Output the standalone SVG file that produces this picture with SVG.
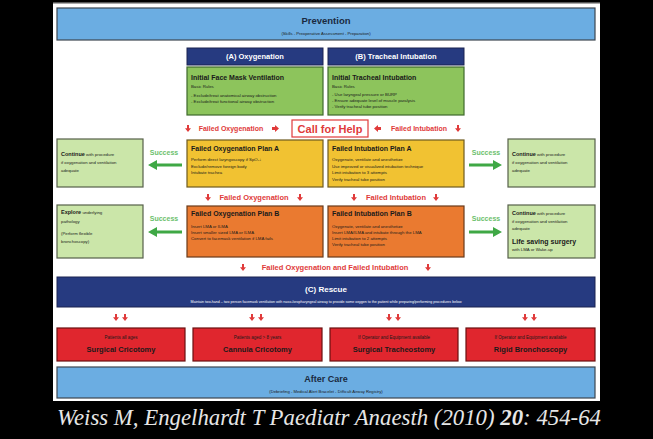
<svg xmlns="http://www.w3.org/2000/svg" width="653" height="439" viewBox="0 0 653 439">
<defs>
<style>
text{font-family:"Liberation Sans",Arial,sans-serif;fill:#1a1a1a}
.t{font-weight:bold;font-size:7px}
.b{font-size:4.3px}
.w{fill:#fff}
.red{fill:#e03a3a;font-weight:bold;font-size:7px}
.succ{fill:#6cbf6c;font-weight:bold;font-size:7px}
.bar{fill:#6badE2;stroke:#3c4650;stroke-width:1.2}
.navy{fill:#263a80;stroke:#1a2350;stroke-width:1}
.green{fill:#8dc45c;stroke:#3f6a2c;stroke-width:1.2}
.lg{fill:#cbe6a9;stroke:#56604a;stroke-width:1.2}
.yel{fill:#f1c232;stroke:#6e5a1e;stroke-width:1.2}
.org{fill:#ea7a30;stroke:#6a3a1a;stroke-width:1.2}
.rb{fill:#e0262e;stroke:#6a1010;stroke-width:1.2}
.ra{fill:#e03a3a}
.ga{fill:#3fa845}
</style>
<symbol id="dn" viewBox="0 0 6 7" overflow="visible"><polygon points="2,0 4,0 4,3.3 6,3.3 3,7 0,3.3 2,3.3"/></symbol>
</defs>
<rect x="0" y="0" width="653" height="439" fill="#000"/>
<rect x="53" y="2" width="547" height="399" fill="#fff"/>
<rect x="53" y="2" width="547" height="1.5" fill="#555"/>

<g id="prevention">
<rect class="bar" x="57" y="8" width="538" height="32"/>
<text x="326" y="24" text-anchor="middle" style="font-weight:bold;font-size:9.5px;fill:#1a2a40">Prevention</text>
<text x="326" y="35" text-anchor="middle" style="font-size:4.2px">(Skills - Preoperative Assessment - Preparation)</text>
</g>

<g id="hdr-a">
<rect class="navy" x="187" y="48" width="136" height="17"/>
<text class="w" x="255" y="59" text-anchor="middle" style="font-weight:bold;font-size:7.5px">(A) Oxygenation</text>
</g>
<g id="hdr-b">
<rect class="navy" x="328" y="48" width="136" height="17"/>
<text class="w" x="396" y="59" text-anchor="middle" style="font-weight:bold;font-size:7.5px">(B) Tracheal Intubation</text>
</g>

<g id="init-a">
<rect class="green" x="187" y="67" width="136" height="48"/>
<text class="t" x="191" y="80">Initial Face Mask Ventilation</text>
<text class="b" x="191" y="88">Basic Rules</text>
<text class="b" x="191" y="97">- Exclude/treat anatomical airway obstruction</text>
<text class="b" x="191" y="103">- Exclude/treat functional airway obstruction</text>
</g>
<g id="init-b">
<rect class="green" x="328" y="67" width="136" height="48"/>
<text class="t" x="332" y="80">Initial Tracheal Intubation</text>
<text class="b" x="332" y="88">Basic Rules</text>
<text class="b" x="332" y="96">- Use laryngeal pressure or BURP</text>
<text class="b" x="332" y="102">- Ensure adequate level of muscle paralysis</text>
<text class="b" x="332" y="108">- Verify tracheal tube position</text>
</g>

<g id="call-help">
<rect x="292" y="120" width="76" height="17" fill="#fff" stroke="#e03a3a" stroke-width="1.2"/>
<text x="330" y="132.5" text-anchor="middle" style="fill:#e03a3a;font-weight:bold;font-size:11px">Call for Help</text>
</g>
<g id="lbl-fail1">
<text class="red" x="231" y="131" text-anchor="middle">Failed Oxygenation</text>
<text class="red" x="419" y="131" text-anchor="middle">Failed Intubation</text>
</g>

<g id="plan-a-oxy">
<rect class="yel" x="187" y="140" width="136" height="47"/>
<text class="t" x="191" y="151">Failed Oxygenation Plan A</text>
<text class="b" x="191" y="161">Perform direct laryngoscopy if SpO₂↓</text>
<text class="b" x="191" y="167.5">Exclude/remove foreign body</text>
<text class="b" x="191" y="174">Intubate trachea</text>
</g>
<g id="plan-a-int">
<rect class="yel" x="328" y="140" width="136" height="47"/>
<text class="t" x="332" y="151">Failed Intubation Plan A</text>
<text class="b" x="332" y="161">Oxygenate, ventilate and anesthetize</text>
<text class="b" x="332" y="167.5">Use improved or visualized intubation technique</text>
<text class="b" x="332" y="174">Limit intubation to 3 attempts</text>
<text class="b" x="332" y="180.5">Verify tracheal tube position</text>
</g>

<g id="continue-1">
<rect class="lg" x="57" y="139" width="86" height="48"/>
<text x="61" y="156"><tspan style="font-weight:bold;font-size:5.5px">Continue</tspan><tspan class="b"> with procedure</tspan></text>
<text class="b" x="61" y="164">if oxygenation and ventilation</text>
<text class="b" x="61" y="172">adequate</text>
</g>
<g id="continue-2">
<rect class="lg" x="508" y="139" width="87" height="48"/>
<text x="512" y="156"><tspan style="font-weight:bold;font-size:5.5px">Continue</tspan><tspan class="b"> with procedure</tspan></text>
<text class="b" x="512" y="164">if oxygenation and ventilation</text>
<text class="b" x="512" y="172">adequate</text>
</g>

<g id="lbl-fail2">
<text class="red" x="254" y="200" text-anchor="middle" style="font-size:7.5px">Failed Oxygenation</text>
<text class="red" x="396" y="200" text-anchor="middle" style="font-size:7.5px">Failed Intubation</text>
</g>

<g id="plan-b-oxy">
<rect class="org" x="187" y="206" width="136" height="51"/>
<text class="t" x="191" y="216">Failed Oxygenation Plan B</text>
<text class="b" x="191" y="228">Insert LMA or ILMA</text>
<text class="b" x="191" y="234">Insert smaller sized LMA or ILMA</text>
<text class="b" x="191" y="240">Convert to facemask ventilation if LMA fails</text>
</g>
<g id="plan-b-int">
<rect class="org" x="328" y="206" width="136" height="51"/>
<text class="t" x="332" y="216">Failed Intubation Plan B</text>
<text class="b" x="332" y="228">Oxygenate, ventilate and anesthetize</text>
<text class="b" x="332" y="234">Insert LMA/ILMA and intubate through the LMA</text>
<text class="b" x="332" y="240">Limit intubation to 2 attempts</text>
<text class="b" x="332" y="246">Verify tracheal tube position</text>
</g>

<g id="explore">
<rect class="lg" x="57" y="205" width="86" height="53"/>
<text x="61" y="214"><tspan style="font-weight:bold;font-size:5.5px">Explore</tspan><tspan class="b"> underlying</tspan></text>
<text class="b" x="61" y="223">pathology</text>
<text class="b" x="61" y="235">(Perform flexible</text>
<text class="b" x="61" y="243">bronchoscopy)</text>
</g>
<g id="continue-3">
<rect class="lg" x="508" y="205" width="87" height="53"/>
<text x="512" y="215"><tspan style="font-weight:bold;font-size:5.5px">Continue</tspan><tspan class="b"> with procedure</tspan></text>
<text class="b" x="512" y="223">if oxygenation and ventilation</text>
<text class="b" x="512" y="230">adequate</text>
<text x="512" y="244" style="font-weight:bold;font-size:7px">Life saving surgery</text>
<text class="b" x="512" y="251">with LMA or Wake-up</text>
</g>

<g id="lbl-success">
<text class="succ" x="164" y="155" text-anchor="middle">Success</text>
<text class="succ" x="486" y="155" text-anchor="middle">Success</text>
<text class="succ" x="164" y="221" text-anchor="middle">Success</text>
<text class="succ" x="486" y="221" text-anchor="middle">Success</text>
</g>

<g id="lbl-fail3">
<text class="red" x="335" y="270" text-anchor="middle" style="font-size:7.5px">Failed Oxygenation and Failed Intubation</text>
</g>

<g id="rescue">
<rect class="navy" x="57" y="277" width="538" height="30"/>
<text class="w" x="326" y="292" text-anchor="middle" style="font-weight:bold;font-size:8px">(C) Rescue</text>
<text class="w" x="326" y="302.5" text-anchor="middle" style="font-size:3.6px">Maintain two-hand – two person facemask ventilation with naso-/oropharyngeal airway to provide some oxygen to the patient while preparing/performing procedures below</text>
</g>

<g id="r1">
<rect class="rb" x="57" y="328" width="128" height="33"/>
<text x="121" y="339" text-anchor="middle" style="font-size:4.5px">Patients all ages</text>
<text x="121" y="352" text-anchor="middle" style="font-weight:bold;font-size:7.5px">Surgical Cricotomy</text>
</g>
<g id="r2">
<rect class="rb" x="193" y="328" width="129" height="33"/>
<text x="257.5" y="339" text-anchor="middle" style="font-size:4.5px">Patients aged &gt; 8 years</text>
<text x="257.5" y="352" text-anchor="middle" style="font-weight:bold;font-size:7.5px">Cannula Cricotomy</text>
</g>
<g id="r3">
<rect class="rb" x="330" y="328" width="128" height="33"/>
<text x="394" y="339" text-anchor="middle" style="font-size:4.5px">If Operator and Equipment available</text>
<text x="394" y="352" text-anchor="middle" style="font-weight:bold;font-size:7.5px">Surgical Tracheostomy</text>
</g>
<g id="r4">
<rect class="rb" x="466" y="328" width="129" height="33"/>
<text x="530.5" y="339" text-anchor="middle" style="font-size:4.5px">If Operator and Equipment available</text>
<text x="530.5" y="352" text-anchor="middle" style="font-weight:bold;font-size:7.5px">Rigid Bronchoscopy</text>
</g>

<g id="after-care">
<rect class="bar" x="57" y="367" width="538" height="31"/>
<text x="326" y="382" text-anchor="middle" style="font-weight:bold;font-size:9px;fill:#1a2a40">After Care</text>
<text x="326" y="392.5" text-anchor="middle" style="font-size:4.2px">(Debriefing - Medical Alert Bracelet - Difficult Airway Registry)</text>
</g>

<g id="connectors">
<g class="ra">
<use href="#dn" x="185" y="125" width="6" height="7"/>
<polygon points="272,127 275,127 275,125 279,128.5 275,132 275,130 272,130"/>
<polygon points="381,127 378,127 378,125 374,128.5 378,132 378,130 381,130"/>
<use href="#dn" x="455" y="125" width="6" height="7"/>
<use href="#dn" x="205" y="194" width="6" height="7"/>
<use href="#dn" x="297" y="194" width="6" height="7"/>
<use href="#dn" x="351" y="194" width="6" height="7"/>
<use href="#dn" x="433" y="194" width="6" height="7"/>
<use href="#dn" x="240" y="264" width="6" height="7"/>
<use href="#dn" x="425" y="264" width="6" height="7"/>
<use href="#dn" x="113" y="314" width="6" height="7"/>
<use href="#dn" x="122" y="314" width="6" height="7"/>
<use href="#dn" x="249" y="314" width="6" height="7"/>
<use href="#dn" x="258" y="314" width="6" height="7"/>
<use href="#dn" x="386" y="314" width="6" height="7"/>
<use href="#dn" x="395" y="314" width="6" height="7"/>
<use href="#dn" x="522" y="314" width="6" height="7"/>
<use href="#dn" x="531" y="314" width="6" height="7"/>
</g>
<g class="ga">
<polygon points="148,165 157,160 157,163.5 182,163.5 182,166.5 157,166.5 157,170"/>
<polygon points="502,165 493,160 493,163.5 469,163.5 469,166.5 493,166.5 493,170"/>
<polygon points="148,232 157,227 157,230.5 182,230.5 182,233.5 157,233.5 157,237"/>
<polygon points="502,232 493,227 493,230.5 469,230.5 469,233.5 493,233.5 493,237"/>
</g>
</g>

<g id="citation">
<text x="329" y="425" text-anchor="middle" style="font-family:'Liberation Serif','Times New Roman',serif;font-style:italic;font-size:22.8px;fill:#e6e6e6">Weiss M, Engelhardt T  Paediatr Anaesth (2010) <tspan font-weight="bold">20</tspan>: 454-64</text>
</g>
</svg>
